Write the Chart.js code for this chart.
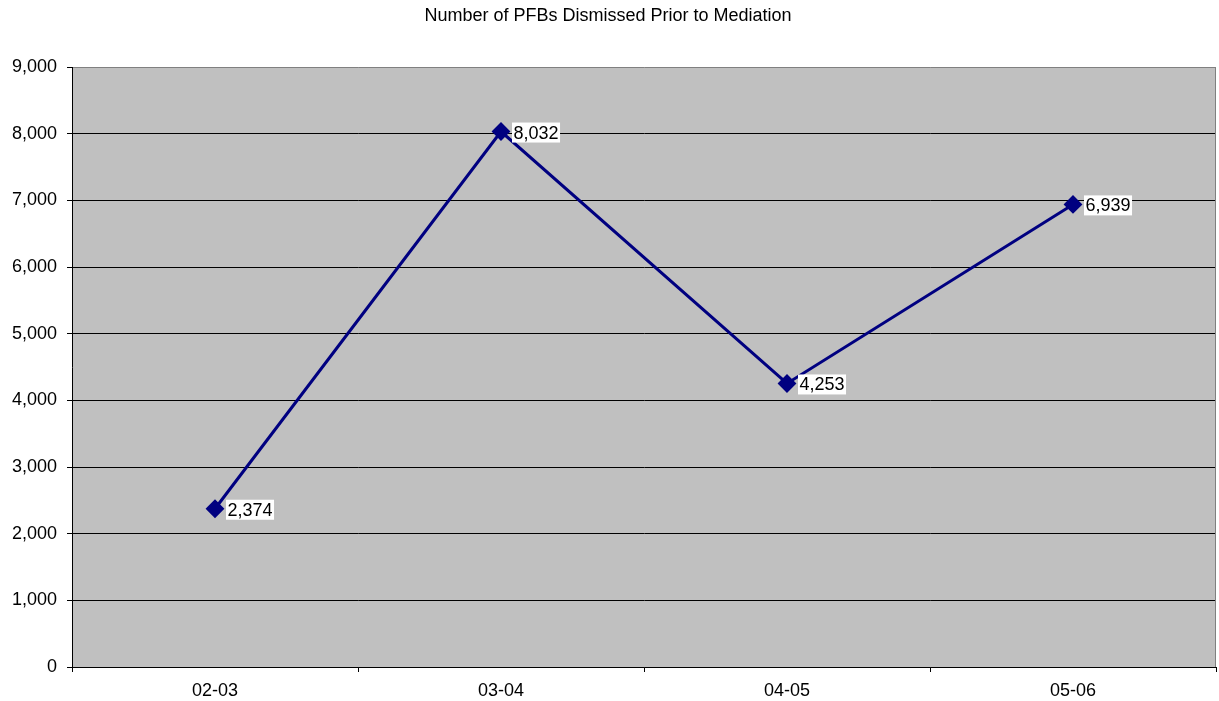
<!DOCTYPE html>
<html>
<head>
<meta charset="utf-8">
<title>Number of PFBs Dismissed Prior to Mediation</title>
<style>
  html, body { margin: 0; padding: 0; background: #ffffff; }
  #wrap { width: 1219px; height: 701px; }
</style>
<script src="https://cdn.jsdelivr.net/npm/chart.js@4.4.0/dist/chart.umd.min.js"></script>
</head>
<body>
<div id="wrap"><canvas id="chart" width="1219" height="701"></canvas></div>
<script>
// Chart text and data
const chartTitle = 'Number of PFBs Dismissed Prior to Mediation';
const seasons = ['02-03', '03-04', '04-05', '05-06'];
const dismissed = [2374, 8032, 4253, 6939];
const yTickValues = [0, 1000, 2000, 3000, 4000, 5000, 6000, 7000, 8000, 9000];

const FONT = "'Liberation Sans', Arial, Helvetica, sans-serif";
Chart.defaults.font.family = FONT;
Chart.defaults.color = '#000000';

const fmt = v => Number(v).toLocaleString('en-US');

// Grey plot background
const plotBackground = {
  id: 'plotBackground',
  beforeDraw(chart) {
    const { ctx, chartArea: a } = chart;
    ctx.save();
    ctx.fillStyle = '#C0C0C0';
    ctx.fillRect(a.left, a.top, a.right - a.left, a.bottom - a.top);
    ctx.restore();
  }
};

// Grey right-hand frame edge
const plotFrame = {
  id: 'plotFrame',
  beforeDatasetsDraw(chart) {
    const { ctx, chartArea: a } = chart;
    ctx.save();
    ctx.strokeStyle = '#808080';
    ctx.lineWidth = 1;
    ctx.beginPath();
    ctx.moveTo(Math.round(a.right) - 0.5, a.top);
    ctx.lineTo(Math.round(a.right) - 0.5, a.bottom);
    ctx.stroke();
    ctx.restore();
  }
};

// Value labels on white boxes, right of each point
const valueLabels = {
  id: 'valueLabels',
  afterDatasetsDraw(chart) {
    const { ctx } = chart;
    const meta = chart.getDatasetMeta(0);
    ctx.save();
    ctx.font = '18px ' + FONT;
    ctx.textBaseline = 'middle';
    ctx.textAlign = 'left';
    meta.data.forEach((pt, i) => {
      const text = fmt(chart.data.datasets[0].data[i]);
      const w = ctx.measureText(text).width;
      const bx = pt.x + 11;
      const bh = 20;
      const cy = pt.y + 1;
      ctx.fillStyle = '#ffffff';
      ctx.fillRect(bx, cy - bh / 2, w + 3, bh);
      ctx.fillStyle = '#000000';
      ctx.fillText(text, bx + 1.5, cy + 1);
    });
    ctx.restore();
  }
};

new Chart(document.getElementById('chart'), {
  type: 'line',
  data: {
    labels: seasons,
    datasets: [{
      label: chartTitle,
      data: dismissed,
      borderColor: '#000080',
      backgroundColor: '#000080',
      borderWidth: 3,
      tension: 0,
      pointStyle: 'rectRot',
      pointRadius: 8,
      pointHoverRadius: 8,
      pointBackgroundColor: '#000080',
      pointBorderColor: '#000080',
      pointBorderWidth: 2
    }]
  },
  options: {
    responsive: false,
    animation: false,
    events: [],
    layout: { autoPadding: false, padding: { top: 0, left: 0, right: 3, bottom: 0 } },
    plugins: {
      legend: { display: false },
      tooltip: { enabled: false },
      title: {
        display: true,
        text: chartTitle,
        color: '#000000',
        font: { size: 18, weight: 'normal', family: FONT },
        lineHeight: 1.2,
        padding: { top: 5, bottom: 40.4 }
      }
    },
    scales: {
      x: {
        type: 'category',
        offset: true,
        afterFit(scale) {
          scale.height = 34;
          scale.paddingLeft = 0;
          scale.paddingRight = 0;
        },
        grid: {
          display: true,
          offset: true,
          drawOnChartArea: false,
          drawTicks: true,
          tickLength: 5,
          color: '#000000'
        },
        border: { display: true, color: '#000000', width: 1 },
        ticks: {
          color: '#000000',
          font: { size: 18, family: FONT },
          padding: 8,
          maxRotation: 0
        }
      },
      y: {
        min: 0,
        max: 9000,
        afterFit(scale) { scale.width = 72; },
        afterBuildTicks(scale) { scale.ticks = yTickValues.map(v => ({ value: v })); },
        grid: {
          display: true,
          drawTicks: true,
          tickLength: 5,
          color: ctx => (ctx.tick && ctx.tick.value === 9000 ? '#808080' : '#000000'),
          tickColor: '#000000'
        },
        border: { display: true, color: '#000000', width: 1 },
        ticks: {
          color: '#000000',
          font: { size: 18, family: FONT },
          padding: 10,
          callback: v => fmt(v)
        }
      }
    }
  },
  plugins: [plotBackground, plotFrame, valueLabels]
});
</script>
</body>
</html>
